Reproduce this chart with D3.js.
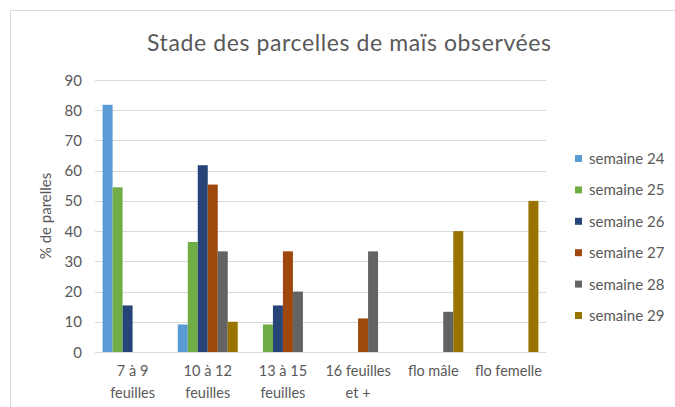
<!DOCTYPE html>
<html>
<head>
<meta charset="utf-8">
<script src="https://cdn.jsdelivr.net/npm/d3@7"></script>
<style>
  body { margin: 0; background: #fff; }
  text { font-family: Lato, "Open Sans", sans-serif; fill: #595959; }
</style>
</head>
<body>
<svg id="chart" width="675" height="407"></svg>
<script>
// Categories and series
const categories = [["7 à 9", "feuilles"], ["10 à 12", "feuilles"], ["13 à 15", "feuilles"], ["16 feuilles", "et +"], ["flo mâle"], ["flo femelle"]];
const seriesNames = ["semaine 24", "semaine 25", "semaine 26", "semaine 27", "semaine 28", "semaine 29"];
const seriesColors = ["#5b9bd5", "#70ad47", "#264478", "#9e480e", "#636363", "#997300"];
// values per series, one per category (null = no bar)
const semaine24 = [81.8, 9.1, null, null, null, null];
const semaine25 = [54.5, 36.4, 9.1, null, null, null];
const semaine26 = [15.4, 61.8, 15.4, null, null, null];
const semaine27 = [null, 55.4, 33.3, 11.1, null, null];
const semaine28 = [null, 33.3, 20, 33.3, 13.3, null];
const semaine29 = [null, 10, null, null, 40, 50];
const seriesValues = [semaine24, semaine25, semaine26, semaine27, semaine28, semaine29];
const yTicks = [0, 10, 20, 30, 40, 50, 60, 70, 80, 90];

const svg = d3.select("#chart");

// Chart frame
svg.append("rect")
    .attr("x", 10.5).attr("y", 10.5)
    .attr("width", 700).attr("height", 420)
    .attr("fill", "none").attr("stroke", "#d9d9d9");

const plot = { left: 95, right: 546, top: 80, bottom: 352 };

const x = d3.scaleBand()
    .domain(d3.range(categories.length))
    .range([plot.left, plot.right]);

const xInner = d3.scaleBand()
    .domain(d3.range(seriesNames.length))
    .range([0, x.bandwidth()])
    .paddingOuter(0.76);

const y = d3.scaleLinear().domain([0, 90]).range([plot.bottom, plot.top]);

// Gridlines
svg.append("g")
    .selectAll("line")
    .data(yTicks)
    .join("line")
    .attr("x1", plot.left).attr("x2", plot.right)
    .attr("y1", d => Math.round(y(d)) + 0.5).attr("y2", d => Math.round(y(d)) + 0.5)
    .attr("stroke", "#d9d9d9").attr("stroke-width", 1);

// Y tick labels
svg.append("g")
    .selectAll("text")
    .data(yTicks)
    .join("text")
    .attr("x", 82).attr("y", d => y(d) + 5.5)
    .attr("text-anchor", "end")
    .style("font-size", "15px")
    .text(d => d);

// Bars
const bars = svg.append("g");
seriesValues.forEach((vals, si) => {
    bars.selectAll(".s" + si)
        .data(vals.map((v, ci) => ({ v, ci })).filter(d => d.v !== null))
        .join("rect")
        .attr("class", "s" + si)
        .attr("x", d => x(d.ci) + xInner(si))
        .attr("width", xInner.bandwidth())
        .attr("y", d => y(d.v))
        .attr("height", d => y(0) - y(d.v))
        .attr("fill", seriesColors[si]);
});

// X labels
const xl = svg.append("g")
    .selectAll("text")
    .data(categories)
    .join("text")
    .attr("x", (d, i) => x(i) + x.bandwidth() / 2)
    .attr("y", 376)
    .attr("text-anchor", "middle")
    .style("font-size", "14.5px");
xl.selectAll("tspan")
    .data(d => d)
    .join("tspan")
    .attr("x", function () { return d3.select(this.parentNode).attr("x"); })
    .attr("dy", (d, i) => i === 0 ? 0 : 22)
    .text(d => d);

// Y axis title
svg.append("text")
    .attr("transform", `translate(51,${(plot.top + plot.bottom) / 2}) rotate(-90)`)
    .attr("text-anchor", "middle")
    .style("font-size", "15px")
    .text("% de parelles");

// Title
svg.append("text")
    .attr("x", 349).attr("y", 51)
    .attr("text-anchor", "middle")
    .style("font-size", "23px")
    .attr("textLength", 404)
    .attr("lengthAdjust", "spacing")
    .text("Stade des parcelles de maïs observées");

// Legend
const legend = svg.append("g")
    .selectAll("g")
    .data(seriesNames)
    .join("g")
    .attr("transform", (d, i) => `translate(575,${159 + i * 31.4})`);
legend.append("rect")
    .attr("x", 0).attr("y", -4)
    .attr("width", 7).attr("height", 7)
    .attr("fill", (d, i) => seriesColors[i]);
legend.append("text")
    .attr("x", 14).attr("y", 5)
    .style("font-size", "15px")
    .text(d => d);
</script>
</body>
</html>
